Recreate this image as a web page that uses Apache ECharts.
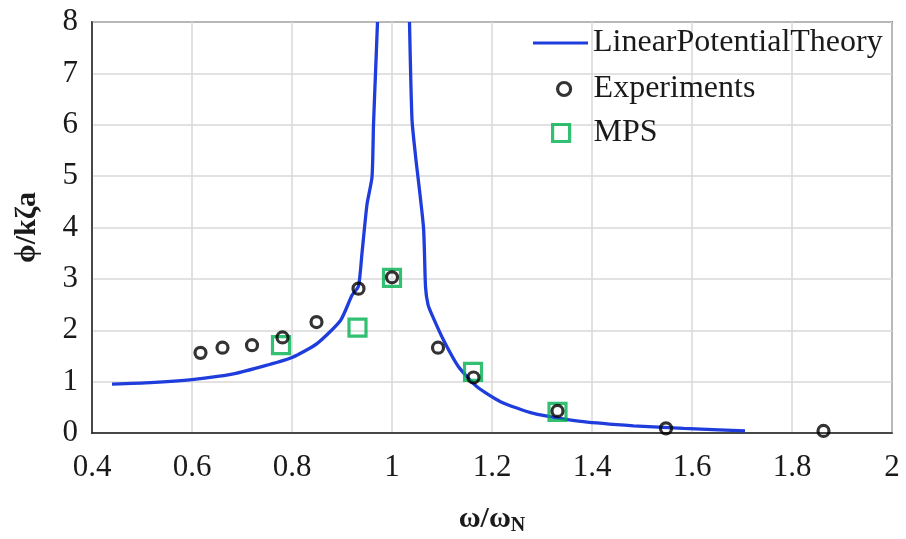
<!DOCTYPE html>
<html>
<head>
<meta charset="utf-8">
<script src="https://cdn.jsdelivr.net/npm/echarts@6/dist/echarts.min.js"></script>
<style>
  html, body { margin: 0; padding: 0; background: #fff; }
  #chart { width: 906px; height: 539px; }
</style>
</head>
<body>
<div id="chart"></div>
<script>
// Linear potential theory curve, split at the resonance (goes off the top of the axis)
const theoryLeft = [
  [0.44, 0.95], [0.517, 0.98], [0.6, 1.04], [0.683, 1.15], [0.75, 1.32],
  [0.8, 1.47], [0.85, 1.74], [0.897, 2.19], [0.92, 2.68], [0.933, 2.86],
  [0.94, 3.5], [0.95, 4.45], [0.96, 4.98], [0.963, 6.0], [0.967, 7.0], [0.971, 8.0]
];
const theoryRight = [
  [1.035, 8.0], [1.04, 6.1], [1.047, 5.4], [1.063, 4.0], [1.067, 2.85],
  [1.072, 2.5], [1.08, 2.3], [1.103, 1.81], [1.133, 1.29], [1.17, 0.90],
  [1.217, 0.61], [1.283, 0.38], [1.383, 0.22], [1.483, 0.14], [1.583, 0.09], [1.706, 0.04]
];
// Measured roll response
const experiments = [
  [0.617, 1.56], [0.661, 1.66], [0.72, 1.71], [0.781, 1.86], [0.849, 2.16],
  [0.933, 2.81], [1.0, 3.03], [1.092, 1.66], [1.163, 1.08], [1.331, 0.43],
  [1.548, 0.09], [1.863, 0.04]
];
// MPS simulation results
const mps = [
  [0.778, 1.71], [0.931, 2.05], [1.0, 3.02], [1.162, 1.19], [1.331, 0.41]
];

const xTicks = { min: 0.4, max: 2, interval: 0.2 };
const yTicks = { min: 0, max: 8, interval: 1 };

const FONT = '"Liberation Serif", "Times New Roman", serif';
const BLUE = '#1e3ddc';
const GREEN = '#00b050';
const TEXT = '#1a1a1a';

const theoryLine = theoryLeft.concat([[null, null]], theoryRight);

const chart = echarts.init(document.getElementById('chart'), null, { renderer: 'canvas' });

// Legend entries are laid out one per component so each key can have its own size
function legendText(padLeft) {
  return { fontFamily: FONT, fontSize: 32, color: TEXT, lineHeight: 30, padding: [0, 0, 0, padLeft] };
}

chart.setOption({
  animation: false,
  backgroundColor: '#fff',
  grid: {
    left: 92, right: 14, top: 22, bottom: 106,
    outerBoundsMode: 'none',
    containLabel: false,
    show: true, borderColor: '#222', borderWidth: 1.5, backgroundColor: 'transparent'
  },
  legend: [
    {
      orient: 'vertical', left: 528, top: 22, padding: 5, selectedMode: false,
      itemWidth: 55, itemHeight: 3,
      textStyle: legendText(0),
      data: [{ name: 'LinearPotentialTheory', icon: 'path://M0,0L55,0L55,3L0,3Z',
               itemStyle: { color: BLUE, borderWidth: 0 } }]
    },
    {
      orient: 'vertical', left: 551, top: 68, padding: 5, selectedMode: false,
      itemWidth: 13, itemHeight: 13,
      textStyle: legendText(18),
      itemStyle: { color: 'rgba(255,255,255,0)', borderColor: '#000', borderWidth: 3.2 },
      data: [{ name: 'Experiments', icon: 'circle' }]
    },
    {
      orient: 'vertical', left: 546, top: 112, padding: 5, selectedMode: false,
      itemWidth: 17, itemHeight: 17,
      textStyle: legendText(19),
      itemStyle: { color: 'rgba(255,255,255,0)', borderColor: GREEN, borderWidth: 3.2 },
      data: [{ name: 'MPS', icon: 'rect' }]
    }
  ],
  xAxis: {
    type: 'value',
    min: xTicks.min, max: xTicks.max, interval: xTicks.interval,
    name: '{m|ω/ω}{s|N}',
    nameLocation: 'middle',
    nameGap: 69,
    nameTextStyle: {
      rich: {
        m: { fontFamily: FONT, fontSize: 30, fontWeight: 'bold', color: TEXT },
        s: { fontFamily: FONT, fontSize: 20, fontWeight: 'bold', color: TEXT, padding: [14, 0, 0, 0] }
      }
    },
    axisLine: { show: true, lineStyle: { color: '#222', width: 1.5 } },
    axisTick: { show: false },
    splitLine: { show: true, lineStyle: { color: '#d9d9d9', width: 1.5 } },
    axisLabel: {
      fontFamily: FONT, fontSize: 31, color: TEXT, margin: 19,
      formatter: v => String(+v.toFixed(1))
    }
  },
  yAxis: {
    type: 'value',
    min: yTicks.min, max: yTicks.max, interval: yTicks.interval,
    name: 'ϕ/kζa',
    nameLocation: 'middle',
    nameGap: 50,
    nameTextStyle: { fontFamily: FONT, fontSize: 30, fontWeight: 'bold', color: TEXT },
    axisLine: { show: true, lineStyle: { color: '#222', width: 1.5 } },
    axisTick: { show: false },
    splitLine: { show: true, lineStyle: { color: '#d9d9d9', width: 1.5 } },
    axisLabel: { fontFamily: FONT, fontSize: 31, color: TEXT, margin: 14 }
  },
  series: [
    {
      name: 'LinearPotentialTheory',
      type: 'line',
      data: theoryLine,
      showSymbol: false,
      symbol: 'none',
      connectNulls: false,
      smooth: 0.2,
      clip: true,
      lineStyle: { color: BLUE, width: 3.3 },
      itemStyle: { color: BLUE },
      z: 2
    },
    {
      name: 'MPS',
      type: 'scatter',
      data: mps,
      symbol: 'rect',
      symbolSize: 17,
      itemStyle: { color: 'rgba(255,255,255,0)', borderColor: GREEN, borderWidth: 3.2 },
      z: 3
    },
    {
      name: 'Experiments',
      type: 'scatter',
      data: experiments,
      symbol: 'circle',
      symbolSize: 11,
      itemStyle: { color: 'rgba(255,255,255,0)', borderColor: '#000', borderWidth: 3.2 },
      z: 4
    }
  ]
});
</script>
</body>
</html>
